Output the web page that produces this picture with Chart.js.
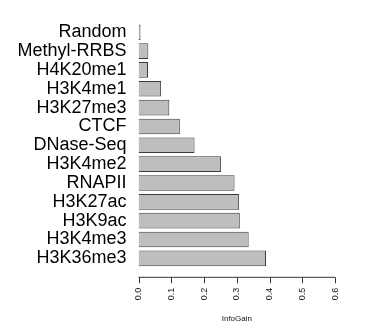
<!DOCTYPE html>
<html>
<head>
<meta charset="utf-8">
<script src="https://cdn.jsdelivr.net/npm/chart.js@4"></script>
<style>
  html, body { margin: 0; padding: 0; background: #fff; }
  #wrap { width: 366px; height: 329px; }
</style>
</head>
<body>
<div id="wrap"><canvas id="grafica" width="366" height="329"></canvas></div>
<script>
const marcas = ["Random", "Methyl-RRBS", "H4K20me1", "H3K4me1", "H3K27me3", "CTCF",
  "DNase-Seq", "H3K4me2", "RNAPII", "H3K27ac", "H3K9ac", "H3K4me3", "H3K36me3"];
const infoGain = [0.001, 0.030, 0.029, 0.069, 0.094, 0.126,
  0.171, 0.252, 0.293, 0.307, 0.309, 0.336, 0.389];
const ticksX = [0, 0.1, 0.2, 0.3, 0.4, 0.5, 0.6];

// eje x al estilo R: linea separada del area con marcas hacia abajo
const ejeR = {
  id: "ejeR",
  afterDraw(chart) {
    const ctx = chart.ctx;
    const x = chart.scales.x;
    const y0 = chart.chartArea.bottom + 9.5;
    ctx.save();
    ctx.strokeStyle = "#333";
    ctx.lineWidth = 1;
    ctx.beginPath();
    ctx.moveTo(x.getPixelForValue(ticksX[0]), y0);
    ctx.lineTo(x.getPixelForValue(ticksX[ticksX.length - 1]), y0);
    ticksX.forEach((t) => {
      const px = Math.round(x.getPixelForValue(t)) + 0.5;
      ctx.moveTo(px, y0);
      ctx.lineTo(px, y0 + 6);
    });
    ctx.stroke();
    ctx.restore();
  },
};

new Chart(document.getElementById("grafica").getContext("2d"), {
  type: "bar",
  data: {
    labels: marcas,
    datasets: [
      {
        data: infoGain,
        backgroundColor: "#bebebe",
        borderColor: "#3a3a3a",
        borderWidth: 1,
        minBarLength: 2,
        barPercentage: 0.83,
        categoryPercentage: 1,
      },
    ],
  },
  options: {
    indexAxis: "y",
    responsive: false,
    animation: false,
    scales: {
      x: {
        min: 0,
        max: 0.6,
        afterBuildTicks(scale) {
          scale.ticks = ticksX.map((v) => ({ value: v }));
        },
        afterFit(scale) {
          scale.height = 61.2;
        },
        grid: { display: false, drawTicks: false },
        border: { display: false },
        ticks: {
          minRotation: 90,
          maxRotation: 90,
          autoSkip: false,
          padding: 20,
          color: "#111",
          font: { size: 9, family: "'Liberation Sans', Arial" },
          callback: (v) => Number(v).toFixed(1),
        },
        title: {
          display: true,
          text: "InfoGain",
          color: "#111",
          font: { size: 8, family: "'Liberation Sans', Arial" },
          padding: { top: 0, bottom: 5 },
        },
      },
      y: {
        afterFit(scale) {
          scale.width = 138.5;
        },
        grid: { display: false, drawTicks: false },
        border: { display: false },
        ticks: {
          autoSkip: false,
          padding: 12,
          color: "#000",
          font: { size: 18, family: "'Liberation Sans', Arial" },
        },
      },
    },
    plugins: {
      legend: { display: false },
      tooltip: { enabled: false },
    },
    layout: {
      padding: { left: 0, right: 3.3, top: 5, bottom: 0 },
    },
  },
  plugins: [ejeR],
});
</script>
</body>
</html>
